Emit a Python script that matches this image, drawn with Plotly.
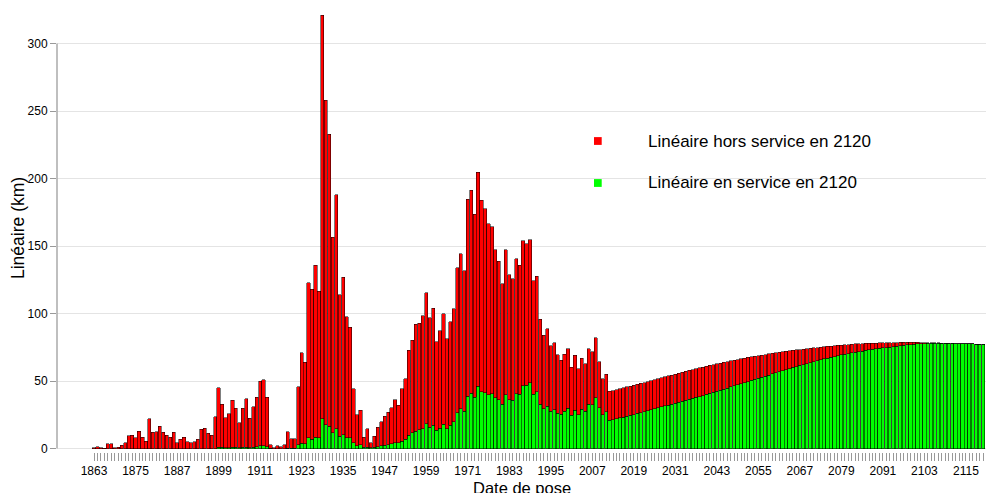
import plotly.graph_objects as go

# ---------------- data ----------------
years = list(range(1863, 2121))

total_km = [
    0.5, 1.5, 0.5, 0.2, 3.5, 3.5, 0.5, 1.0, 2.5, 4.5,
    9.5, 10.0, 8.0, 13.0, 8.5, 5.5, 22.0, 12.0, 12.5, 16.5,
    12.0, 10.0, 8.5, 12.0, 4.5, 7.0, 8.5, 5.0, 4.5, 5.0,
    7.0, 14.5, 15.0, 11.4, 10.0, 23.7, 45.0, 33.0, 23.0, 26.0,
    36.0, 30.0, 19.0, 30.0, 37.0, 22.5, 31.0, 38.0, 50.0, 51.0,
    38.0, 2.8, 0.5, 2.0, 1.5, 2.8, 12.4, 7.3, 7.3, 46.0,
    71.0, 64.0, 123.0, 118.0, 136.0, 116.5, 321.0, 258.0, 233.0, 156.5,
    188.0, 114.0, 127.0, 97.5, 90.0, 44.4, 25.0, 28.4, 8.6, 14.8,
    4.2, 9.0, 16.0, 19.8, 24.0, 27.0, 30.4, 36.3, 32.3, 44.2,
    51.8, 72.8, 80.2, 92.3, 93.0, 98.5, 115.3, 96.8, 104.0, 79.0,
    87.2, 99.8, 81.2, 93.8, 103.5, 133.8, 144.4, 131.9, 184.7, 191.4,
    173.6, 204.7, 184.0, 177.5, 166.4, 164.2, 147.4, 138.8, 122.2, 147.2,
    128.9, 125.7, 140.5, 135.8, 153.8, 151.9, 154.6, 124.4, 127.7, 96.0,
    84.0, 88.9, 76.3, 78.3, 69.4, 65.4, 70.0, 74.0, 60.2, 69.0,
    59.0, 67.0, 62.7, 73.8, 71.6, 82.0, 64.2, 51.9, 55.0, 42.5,
    43.0, 43.7, 44.2, 45.0, 45.7, 46.2, 47.0, 47.7, 48.4, 48.9,
    49.6, 50.3, 51.0, 51.7, 52.4, 53.1, 53.8, 54.5, 55.2, 55.9,
    56.6, 57.3, 57.9, 58.5, 59.2, 59.8, 60.4, 61.0, 61.6, 62.2,
    62.8, 63.4, 63.9, 64.5, 65.0, 65.5, 66.0, 66.5, 67.0, 67.5,
    67.9, 68.4, 68.8, 69.3, 69.7, 70.1, 70.5, 70.9, 71.3, 71.7,
    72.0, 72.4, 72.7, 73.1, 73.4, 73.7, 74.0, 74.3, 74.6, 74.9,
    75.2, 75.5, 75.8, 76.0, 76.3, 76.5, 76.7, 76.9, 77.1, 77.3,
    77.5, 77.6, 77.8, 77.9, 78.0, 78.1, 78.2, 78.3, 78.4, 78.5,
    78.5, 78.6, 78.6, 78.7, 78.7, 78.7, 78.7, 78.7, 78.7, 78.6,
    78.6, 78.5, 78.4, 78.4, 78.3, 78.2, 78.1, 78.0, 77.9, 77.8,
    77.8, 77.7, 77.6, 77.5, 77.5, 77.4, 77.4, 77.3,
]

en_service_km = [
    0, 0, 0, 0, 0, 0, 0, 0, 0, 0,
    0, 0, 0, 0, 0, 0, 0, 0, 0, 0,
    0, 0, 0, 0, 0, 0, 0, 0, 0, 0,
    0, 0, 0, 0, 0, 0, 1.0, 1.0, 0.5, 0.5,
    1.0, 1.0, 0.5, 1.0, 1.0, 0.8, 1.0, 1.5, 2.0, 2.2,
    1.5, 0.2, 0, 0, 0, 0, 0.3, 0.2, 0.3, 3.0,
    4.0, 3.5, 8.0, 7.0, 8.6, 8.0, 22.0, 17.8, 16.5, 11.6,
    14.6, 9.0, 10.4, 8.0, 8.0, 4.2, 2.2, 2.7, 1.0, 1.0,
    0.7, 1.0, 1.5, 2.0, 2.5, 3.0, 3.7, 4.2, 4.2, 5.4,
    6.9, 10.0, 11.6, 13.0, 13.8, 14.6, 18.5, 15.8, 17.3, 13.6,
    15.0, 18.0, 14.8, 17.5, 19.8, 26.4, 29.4, 27.7, 38.8, 41.0,
    38.0, 46.2, 42.2, 41.5, 40.0, 40.7, 37.5, 36.3, 32.8, 39.8,
    36.3, 36.0, 40.7, 40.2, 46.7, 47.0, 48.9, 40.2, 42.2, 33.0,
    29.4, 31.4, 27.7, 28.9, 26.2, 25.4, 27.7, 29.9, 24.7, 28.6,
    25.0, 29.1, 27.7, 32.8, 32.6, 37.8, 30.4, 25.2, 27.2, 21.0,
    21.5, 22.2, 22.7, 23.2, 24.0, 24.7, 25.2, 26.2, 26.7, 27.4,
    28.1, 28.8, 29.5, 30.2, 30.9, 31.6, 32.3, 33.0, 33.7, 34.4,
    35.1, 35.8, 36.5, 37.2, 37.9, 38.6, 39.3, 40.1, 40.9, 41.7,
    42.5, 43.3, 44.1, 44.9, 45.7, 46.5, 47.3, 48.1, 48.9, 49.7,
    50.5, 51.3, 52.1, 52.9, 53.7, 54.5, 55.3, 56.1, 56.9, 57.7,
    58.5, 59.3, 60.1, 60.8, 61.6, 62.3, 63.0, 63.7, 64.4, 65.1,
    65.8, 66.4, 67.0, 67.6, 68.2, 68.8, 69.4, 69.9, 70.4, 70.9,
    71.4, 71.9, 72.3, 72.7, 73.1, 73.5, 73.9, 74.2, 74.6, 74.9,
    75.2, 75.5, 75.8, 76.3, 76.6, 76.9, 77.1, 77.3, 77.5, 77.6,
    77.8, 77.9, 78.0, 78.1, 78.1, 78.1, 78.1, 78.0, 77.9, 77.8,
    77.8, 77.7, 77.6, 77.5, 77.5, 77.4, 77.4, 77.3,
]

hors_service_km = [round(max(t - g, 0), 2) for t, g in zip(total_km, en_service_km)]

label_years = list(range(1863, 2121, 12))
y_ticks = [0, 50, 100, 150, 200, 250, 300]

legend_labels = ["Linéaire hors service en 2120", "Linéaire en service en 2120"]
colors = ["#ff0000", "#00ff00"]

FONT = "Liberation Sans, Arial, sans-serif"

# ---------------- figure ----------------
fig = go.Figure()
fig.add_trace(go.Bar(
    x=years, y=en_service_km, name=legend_labels[1],
    marker=dict(color=colors[1], line=dict(color="black", width=0.5)),
))
fig.add_trace(go.Bar(
    x=years, y=hors_service_km, name=legend_labels[0],
    marker=dict(color=colors[0], line=dict(color="black", width=0.5)),
))

fig.update_layout(
    width=996, height=493,
    barmode="stack", bargap=0.08,
    showlegend=False,
    paper_bgcolor="white", plot_bgcolor="white",
    margin=dict(l=57, r=10, t=14, b=41),
    font=dict(family=FONT, size=12, color="black"),
)

fig.update_xaxes(
    range=[1852.3, 2120.8],
    tickmode="array", tickvals=label_years, ticktext=[str(y) for y in label_years],
    ticks="outside", ticklen=8, tickcolor="#999999", tickwidth=1,
    minor=dict(tickmode="array", tickvals=years, ticks="outside", ticklen=8,
               tickcolor="#999999", tickwidth=1, showgrid=False),
    showgrid=False, zeroline=False, showline=False,
    tickfont=dict(family=FONT, size=12, color="black"),
)
fig.update_yaxes(
    range=[-2.5, 321.9],
    tickmode="array", tickvals=y_ticks,
    ticks="outside", ticklen=6, tickcolor="#999999", tickwidth=1,
    showgrid=True, gridcolor="#e4e4e4", gridwidth=1,
    zeroline=False, showline=False,
    tickfont=dict(family=FONT, size=12, color="black"),
)

# y axis line spanning the tick range
fig.add_shape(type="line", xref="paper", yref="y", x0=0, x1=0, y0=0, y1=300,
              line=dict(color="#aaaaaa", width=1.5))

# custom legend
plot_w = 996 - 57 - 10
plot_h = 493 - 14 - 41
def px_x(px):
    return (px - 57) / plot_w
def px_y(py):
    return (493 - 41 - py) / plot_h

for label, col, cy in [(legend_labels[0], colors[0], 141), (legend_labels[1], colors[1], 183)]:
    fig.add_shape(type="rect", xref="paper", yref="paper",
                  x0=px_x(594), x1=px_x(601.7), y0=px_y(cy + 3.9), y1=px_y(cy - 3.9),
                  fillcolor=col, line=dict(width=0))
    fig.add_annotation(xref="paper", yref="paper", x=px_x(646), y=px_y(cy),
                       text=label, showarrow=False, xanchor="left", yanchor="middle",
                       font=dict(family=FONT, size=17, color="black"))

# axis titles
fig.add_annotation(xref="paper", yref="paper", x=px_x(522), y=px_y(487.5),
                   text="Date de pose", showarrow=False, xanchor="center", yanchor="middle",
                   font=dict(family=FONT, size=16.5, color="black"))
fig.add_annotation(xref="paper", yref="paper", x=px_x(18), y=px_y(228),
                   text="Linéaire (km)", showarrow=False, textangle=-90,
                   xanchor="center", yanchor="middle",
                   font=dict(family=FONT, size=17.5, color="black"))

fig.write_html("out.html", post_script="document.body.style.margin='0';",
               config={"displayModeBar": False})
